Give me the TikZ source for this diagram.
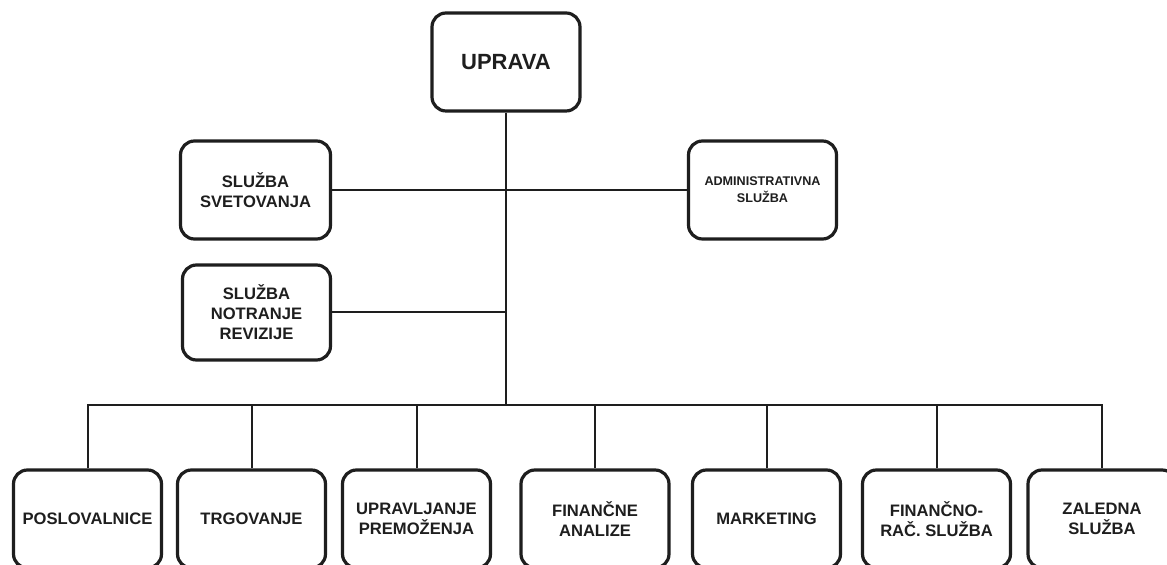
\documentclass[tikz,border=0pt]{standalone}
\usepackage{fontspec}
\setmainfont{Liberation Sans}
\usepackage{xcolor}
\usetikzlibrary{positioning, calc}
\definecolor{orgink}{HTML}{1E1E1E}

\begin{document}
\begin{tikzpicture}[x=0.5pt, y=-0.5pt,
      unit/.style={draw=orgink, line width=1.6pt, rounded corners=7pt, fill=white,
                   minimum width=74pt, minimum height=49pt, inner sep=1pt,
                   align=center, text=orgink,
                   font=\fontsize{8.3}{10}\selectfont\bfseries},
      link/.style={draw=orgink, line width=1pt},
    ]
    \fill[white] (0,0) rectangle (1167,565);
    \useasboundingbox (0,0) rectangle (1167,565);
    \clip (0,0) rectangle (1167,565);

    % -- top: management --
    \node[unit, font=\fontsize{11}{13}\selectfont\bfseries] (uprava) at (506,62) {UPRAVA};

    % -- staff services --
    \node[unit, minimum width=75pt] (svet) at (255.5,190) {SLUŽBA\\SVETOVANJA};
    \node[unit, minimum height=47.5pt] (revizija) at (256.5,312.5) {SLUŽBA\\NOTRANJE\\REVIZIJE};
    \node[unit, font=\fontsize{6.3}{8.5}\selectfont\bfseries] (admin) at (762.5,190) {ADMINISTRATIVNA\\SLUŽBA};

    % -- departments --
    \node[unit] (odd1) at (87.5,519)  {POSLOVALNICE};
    \node[unit] (odd2) at (251.5,519) {TRGOVANJE};
    \node[unit] (odd3) at (416.5,519) {UPRAVLJANJE\\PREMOŽENJA};
    \node[unit] (odd4) at (595,519)   {FINANČNE\\ANALIZE};
    \node[unit] (odd5) at (766.5,519) {MARKETING};
    \node[unit] (odd6) at (936.5,519) {FINANČNO-\\RAČ. SLUŽBA};
    \node[unit] (odd7) at (1102,519)  {ZALEDNA\\SLUŽBA};

    % -- connectors --
    \coordinate (bus) at (506,405);
    \draw[link] (uprava.south) -- (bus);
    \draw[link] (svet.east) -- (svet.east -| uprava.south);
    \draw[link] (revizija.east) -- (revizija.east -| uprava.south);
    \draw[link] (admin.west) -- (admin.west -| uprava.south);
    \draw[link] (odd1.north) -- (odd1.north |- bus) -- (odd7.north |- bus) -- (odd7.north);
    \foreach \i in {2,...,6}
      \draw[link] (odd\i.north) -- (odd\i.north |- bus);
  \end{tikzpicture}
\end{document}
